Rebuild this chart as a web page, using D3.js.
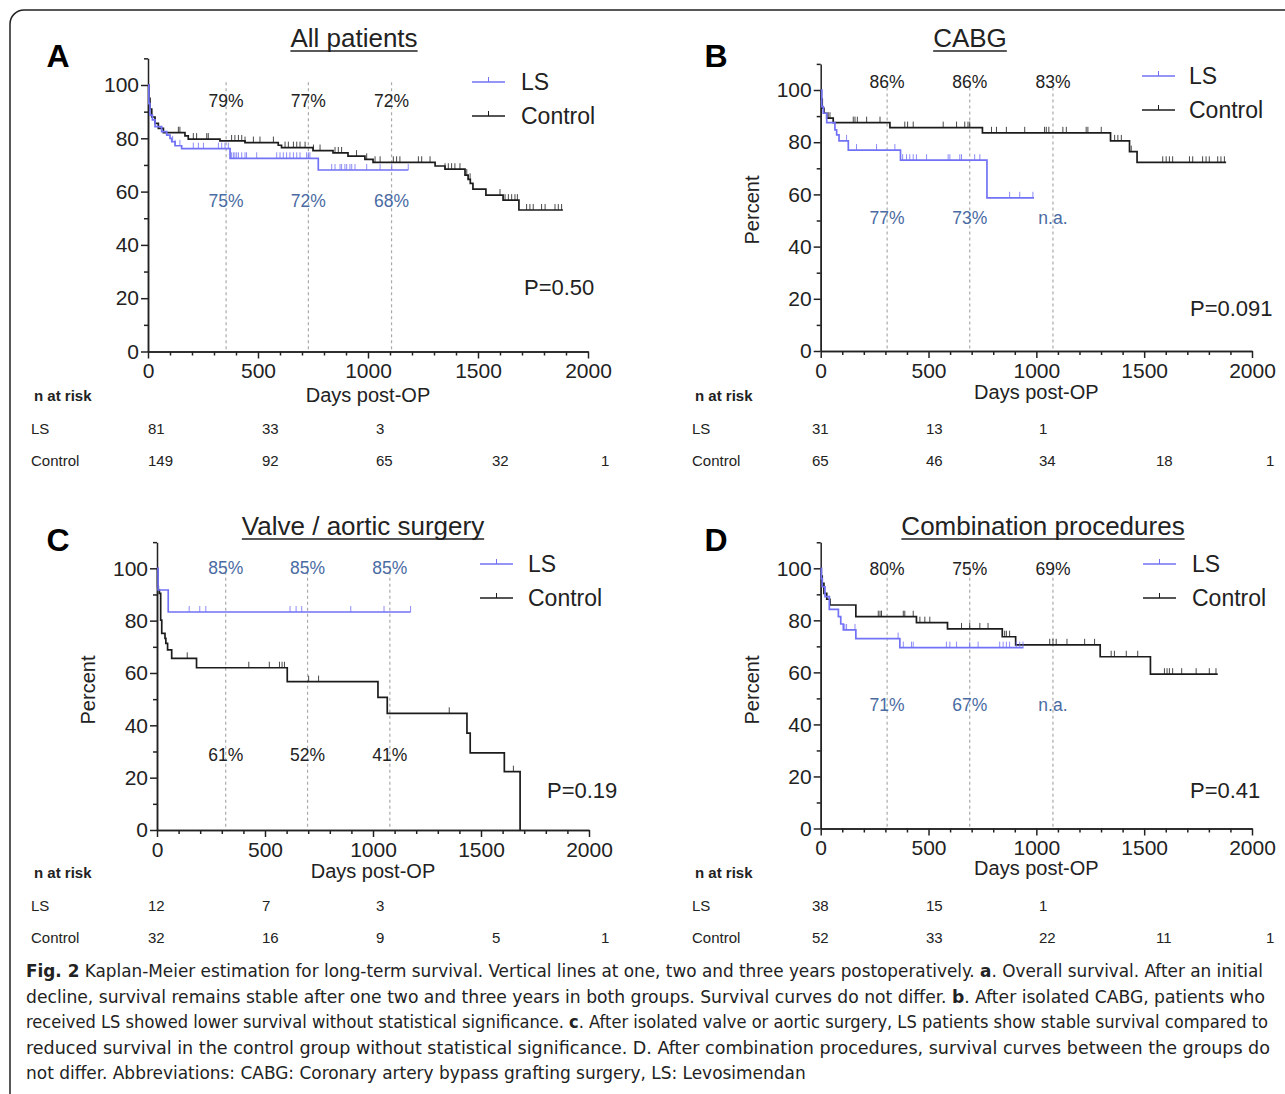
<!DOCTYPE html>
<html>
<head>
<meta charset="utf-8">
<script src="https://cdn.jsdelivr.net/npm/d3@7"></script>
<style>
body{margin:0;background:#fff}
svg{display:block;font-family:"Liberation Sans",Arial,Helvetica,sans-serif}
</style>
</head>
<body>
<script>
// ---- data ----
var titles = ["All patients", "CABG", "Valve / aortic surgery", "Combination procedures"];
var letters = ["A", "B", "C", "D"];
var pValues = ["P=0.50", "P=0.091", "P=0.19", "P=0.41"];
var xTicks = [0, 500, 1000, 1500, 2000];
var yTicks = [0, 20, 40, 60, 80, 100];

// vertical year lines (days, as drawn)
var yearLinesA = [355, 729, 1107];
var yearLinesB = [308, 691, 1077];
var yearLinesC = [318, 697, 1078];
var yearLinesD = [308, 691, 1077];

// percent labels at the year lines
var ctrlPctA = ["79%", "77%", "72%"], lsPctA = ["75%", "72%", "68%"];
var ctrlPctB = ["86%", "86%", "83%"], lsPctB = ["77%", "73%", "n.a."];
var ctrlPctC = ["61%", "52%", "41%"], lsPctC = ["85%", "85%", "85%"];
var ctrlPctD = ["80%", "75%", "69%"], lsPctD = ["71%", "67%", "n.a."];

// Kaplan-Meier steps [day, percent], last day, censored days
var aLsSteps = [[0,100],[4,93],[9,88.7],[20,86.9],[32,84.4],[62,82.5],[85,81.2],[100,80],[108,78.7],[123,77.2],[153,76.1],[373,72.5],[774,68.1]];
var aLsEnd = 1183;
var aLsCens = [112,123,145,206,229,252,320,335,350,365,380,388,395,403,411,426,441,448,494,585,600,615,630,645,661,676,691,721,729,736,835,850,873,880,895,903,918,926,941,994,1055,1108,1183];
var aCtrlSteps = [[0,100],[4,95],[9,91],[17,88],[32,85.6],[47,83.7],[70,82.1],[168,80.9],[183,79.7],[327,79.0],[441,78.4],[592,77.4],[607,76.5],[750,75.4],[841,74.5],[909,73.3],[986,72.1],[1023,71.0],[1305,69.6],[1350,68.4],[1441,66.2],[1455,64.6],[1465,63.1],[1477,60.9],[1536,58.7],[1614,56.8],[1686,53.1]];
var aCtrlEnd = 1886;
var aCtrlCens = [138,145,206,221,267,274,380,395,411,426,441,479,509,570,623,638,661,676,691,714,752,782,850,865,880,948,994,1032,1055,1115,1130,1145,1229,1244,1282,1350,1365,1380,1395,1418,1449,1464,1600,1623,1638,1653,1668,1679,1721,1736,1751,1789,1805,1850,1865,1880];

var bLsSteps = [[0,100],[5,93.6],[12,91.1],[28,87.5],[66,84.7],[74,82.8],[85,80.5],[128,77.0],[370,73.1],[771,58.7]];
var bLsEnd = 989;
var bLsCens = [120,166,259,344,380,398,413,429,444,491,591,599,645,653,714,738,876,923,984];
var bCtrlSteps = [[0,100],[3,96.5],[7,93],[15,91.1],[28,89.2],[58,87.5],[321,85.6],[750,83.6],[1344,80.5],[1432,76.4],[1467,72.3]];
var bCtrlEnd = 1880;
var bCtrlCens = [35,43,151,159,170,213,275,390,403,429,568,630,668,683,691,792,815,861,946,1038,1046,1058,1123,1139,1231,1239,1301,1363,1378,1394,1440,1586,1602,1617,1632,1710,1725,1771,1787,1802,1841,1856,1872];

var cLsSteps = [[0,100],[5,91.7],[52,83.3]];
var cLsEnd = 1174;
var cLsCens = [149,198,226,616,644,670,897,1051,1174];
var cCtrlSteps = [[0,100],[3,93],[6,91.7],[11,90.4],[17,80.2],[22,75.1],[37,73.2],[41,71.3],[49,68.8],[68,65.6],[183,62.0],[603,56.7],[1023,50.7],[1066,44.6],[1435,37.0],[1450,29.5],[1608,22.3],[1681,0]];
var cCtrlEnd = 1681;
var cCtrlCens = [140,425,520,567,579,590,702,748,1353,1650];

var dLsSteps = [[0,100],[3,96],[7,92.9],[20,89.1],[40,84.2],[82,81.4],[93,78.6],[105,76.3],[163,73.0],[367,69.5]];
var dLsEnd = 940;
var dLsCens = [112,120,159,359,383,421,429,583,599,630,691,730,830,846,861,876,907,923,938];
var dCtrlSteps = [[0,100],[3,97],[7,94.2],[15,90.4],[28,88.1],[43,85.9],[163,81.4],[444,79.1],[588,76.7],[842,73.7],[904,70.6],[1296,66.0],[1529,59.3]];
var dCtrlEnd = 1841;
var dCtrlCens = [267,275,282,383,390,429,460,483,506,653,691,738,776,853,861,876,1062,1077,1092,1142,1224,1270,1347,1362,1417,1470,1594,1606,1617,1632,1674,1741,1802,1833];

// numbers at risk
var riskA_LS = [81, 33, 3], riskA_Ctrl = [149, 92, 65, 32, 1];
var riskB_LS = [31, 13, 1], riskB_Ctrl = [65, 46, 34, 18, 1];
var riskC_LS = [12, 7, 3], riskC_Ctrl = [32, 16, 9, 5, 1];
var riskD_LS = [38, 15, 1], riskD_Ctrl = [52, 33, 22, 11, 1];

var captionLines = [
  [["Fig. 2", true], [" Kaplan-Meier estimation for long-term survival. Vertical lines at one, two and three years postoperatively. ", false], ["a", true], [". Overall survival. After an initial", false]],
  [["decline, survival remains stable after one two and three years in both groups. Survival curves do not differ. ", false], ["b", true], [". After isolated CABG, patients who", false]],
  [["received LS showed lower survival without statistical significance. ", false], ["c", true], [". After isolated valve or aortic surgery, LS patients show stable survival compared to", false]],
  [["reduced survival in the control group without statistical significance. D. After combination procedures, survival curves between the groups do", false]],
  [["not differ. Abbreviations: CABG: Coronary artery bypass grafting surgery, LS: Levosimendan", false]]
];

// ---- drawing ----
var lsColor = "#7272f6", ctrlColor = "#1c1c1c", lsText = "#4a6ba3", ink = "#222";

var svg = d3.select("body").append("svg").attr("width", 1285).attr("height", 1094);

svg.append("rect").attr("x", 10).attr("y", 10).attr("width", 1310).attr("height", 1110)
  .attr("rx", 14).attr("fill", "#fff").attr("stroke", "#222").attr("stroke-width", 1.5);

var panels = [
  {x0:148, x1:588, y0:351.5, y100:85, yearLines:yearLinesA, ctrlPct:ctrlPctA, lsPct:lsPctA, ctrlPctY:107, lsPctY:207,
   ls:aLsSteps, lsEnd:aLsEnd, lsCens:aLsCens, ctrl:aCtrlSteps, ctrlEnd:aCtrlEnd, ctrlCens:aCtrlCens,
   riskLS:riskA_LS, riskCtrl:riskA_Ctrl, riskX:[148,262,376,492,601], riskLabelX:31, riskTop:401,
   titleX:354, titleY:47, letterX:58, letterY:67, percent:null, xLabelY:402,
   legX:472, legY:82, legTextX:521, pX:524, pY:295},
  {x0:820.7, x1:1252, y0:351, y100:90, yearLines:yearLinesB, ctrlPct:ctrlPctB, lsPct:lsPctB, ctrlPctY:88, lsPctY:224,
   ls:bLsSteps, lsEnd:bLsEnd, lsCens:bLsCens, ctrl:bCtrlSteps, ctrlEnd:bCtrlEnd, ctrlCens:bCtrlCens,
   riskLS:riskB_LS, riskCtrl:riskB_Ctrl, riskX:[812,926,1039,1156,1266], riskLabelX:692, riskTop:401,
   titleX:970, titleY:47, letterX:716, letterY:67, percent:[752,210], xLabelY:399,
   legX:1142, legY:76, legTextX:1189, pX:1190, pY:316},
  {x0:157, x1:589, y0:830, y100:568.3, yearLines:yearLinesC, ctrlPct:ctrlPctC, lsPct:lsPctC, ctrlPctY:761, lsPctY:574,
   ls:cLsSteps, lsEnd:cLsEnd, lsCens:cLsCens, ctrl:cCtrlSteps, ctrlEnd:cCtrlEnd, ctrlCens:cCtrlCens,
   riskLS:riskC_LS, riskCtrl:riskC_Ctrl, riskX:[148,262,376,492,601], riskLabelX:31, riskTop:878,
   titleX:363, titleY:535, letterX:58, letterY:551, percent:[88,690], xLabelY:878,
   legX:480, legY:564, legTextX:528, pX:547, pY:798},
  {x0:820.7, x1:1252, y0:828.5, y100:568.3, yearLines:yearLinesD, ctrlPct:ctrlPctD, lsPct:lsPctD, ctrlPctY:575, lsPctY:711,
   ls:dLsSteps, lsEnd:dLsEnd, lsCens:dLsCens, ctrl:dCtrlSteps, ctrlEnd:dCtrlEnd, ctrlCens:dCtrlCens,
   riskLS:riskD_LS, riskCtrl:riskD_Ctrl, riskX:[812,926,1039,1156,1266], riskLabelX:692, riskTop:878,
   titleX:1043, titleY:535, letterX:716, letterY:551, percent:[752,690], xLabelY:875,
   legX:1143, legY:564, legTextX:1192, pX:1190, pY:798}
];

function survAt(steps, t) {
  var s = steps[0][1];
  steps.forEach(function(p){ if (p[0] <= t) s = p[1]; });
  return s;
}

panels.forEach(function(p, i) {
  var x = d3.scaleLinear().domain([0, 2000]).range([p.x0, p.x1]);
  var y = d3.scaleLinear().domain([0, 100]).range([p.y0, p.y100]);
  var g = svg.append("g");

  // axes
  var yMajor = d3.axisLeft(y).tickValues(yTicks).tickSize(7).tickSizeOuter(0).tickPadding(2).tickFormat(d3.format("d"));
  var yMinor = d3.axisLeft(y.copy().domain([0, 110]).range([p.y0, y(110)])).tickValues([10,30,50,70,90,110]).tickSize(4).tickSizeOuter(0).tickFormat("");
  var xMajor = d3.axisBottom(x).tickValues(xTicks).tickSize(7).tickSizeOuter(0).tickPadding(5).tickFormat(d3.format("d"));
  var xMinor = d3.axisBottom(x).tickValues(d3.range(100, 2000, 100).filter(function(d){ return d % 500; })).tickSize(4).tickSizeOuter(0).tickFormat("");

  var ya = g.append("g").attr("transform", "translate(" + p.x0 + ",0)");
  ya.append("g").call(yMinor);
  ya.append("g").call(yMajor);
  var xa = g.append("g").attr("transform", "translate(0," + p.y0 + ")");
  xa.append("g").call(xMinor);
  xa.append("g").call(xMajor);
  g.selectAll(".domain, .tick line").attr("stroke", ink).attr("stroke-width", 1.5);
  g.selectAll(".tick text").attr("font-size", 21).attr("fill", ink).attr("font-family", "Liberation Sans, Arial, sans-serif");

  // year lines
  g.selectAll(".yl").data(p.yearLines).enter().append("line")
    .attr("x1", function(d){ return x(d); }).attr("x2", function(d){ return x(d); })
    .attr("y1", y(101)).attr("y2", p.y0)
    .attr("stroke", "#aaa").attr("stroke-width", 1.2).attr("stroke-dasharray", "3,3");

  g.selectAll(".pc").data(p.ctrlPct).enter().append("text")
    .attr("x", function(d, j){ return x(p.yearLines[j]); }).attr("y", p.ctrlPctY)
    .attr("text-anchor", "middle").attr("font-size", 17.5).attr("fill", ink).text(function(d){ return d; });
  g.selectAll(".pl").data(p.lsPct).enter().append("text")
    .attr("x", function(d, j){ return x(p.yearLines[j]); }).attr("y", p.lsPctY)
    .attr("text-anchor", "middle").attr("font-size", 17.5).attr("fill", lsText).text(function(d){ return d; });

  // curves
  var line = d3.line().x(function(d){ return x(d[0]); }).y(function(d){ return y(d[1]); }).curve(d3.curveStepAfter);
  [[p.ctrl, p.ctrlEnd, p.ctrlCens, ctrlColor], [p.ls, p.lsEnd, p.lsCens, lsColor]].forEach(function(c) {
    var pts = c[0].concat([[c[1], c[0][c[0].length - 1][1]]]);
    g.append("path").datum(pts).attr("d", line).attr("fill", "none")
      .attr("stroke", c[3]).attr("stroke-width", 1.7);
    g.selectAll(null).data(c[2]).enter().append("line")
      .attr("x1", function(d){ return x(d); }).attr("x2", function(d){ return x(d); })
      .attr("y1", function(d){ return y(survAt(c[0], d)) - 6; })
      .attr("y2", function(d){ return y(survAt(c[0], d)); })
      .attr("stroke", c[3]).attr("stroke-width", 1).attr("opacity", 0.8);
  });

  // title + underline
  var t = g.append("text").attr("x", p.titleX).attr("y", p.titleY).attr("text-anchor", "middle")
    .attr("font-size", 26).attr("fill", ink).text(titles[i]);
  var tw = t.node().getComputedTextLength();
  g.append("line").attr("x1", p.titleX - tw / 2).attr("x2", p.titleX + tw / 2)
    .attr("y1", p.titleY + 4).attr("y2", p.titleY + 4).attr("stroke", ink).attr("stroke-width", 1.5);

  g.append("text").attr("x", p.letterX).attr("y", p.letterY).attr("text-anchor", "middle")
    .attr("font-size", 32).attr("font-weight", "bold").attr("fill", "#000").text(letters[i]);

  if (p.percent) {
    g.append("text").attr("transform", "translate(" + p.percent[0] + "," + p.percent[1] + ") rotate(-90)")
      .attr("text-anchor", "middle").attr("dy", "0.35em").attr("font-size", 20).attr("fill", ink).text("Percent");
  }
  g.append("text").attr("x", x(1000)).attr("y", p.xLabelY).attr("text-anchor", "middle")
    .attr("font-size", 20).attr("fill", ink).text("Days post-OP");

  // legend
  [["LS", lsColor, 0], ["Control", ctrlColor, 1]].forEach(function(l) {
    var ly = p.legY + l[2] * 34;
    g.append("line").attr("x1", p.legX).attr("x2", p.legX + 33).attr("y1", ly).attr("y2", ly)
      .attr("stroke", l[1]).attr("stroke-width", 1.7);
    g.append("line").attr("x1", p.legX + 16.5).attr("x2", p.legX + 16.5).attr("y1", ly - 5).attr("y2", ly)
      .attr("stroke", l[1]).attr("stroke-width", 1);
    g.append("text").attr("x", p.legTextX).attr("y", ly + 8).attr("font-size", 23).attr("fill", ink).text(l[0]);
  });

  g.append("text").attr("x", p.pX).attr("y", p.pY).attr("font-size", 22).attr("fill", ink).text(pValues[i]);

  // numbers at risk
  g.append("text").attr("x", p.riskLabelX + 3).attr("y", p.riskTop).attr("font-size", 15)
    .attr("font-weight", "bold").attr("fill", ink).text("n at risk");
  [["LS", p.riskLS, 33], ["Control", p.riskCtrl, 65]].forEach(function(r) {
    g.append("text").attr("x", p.riskLabelX).attr("y", p.riskTop + r[2]).attr("font-size", 15).attr("fill", ink).text(r[0]);
    g.selectAll(null).data(r[1]).enter().append("text")
      .attr("x", function(d, j){ return p.riskX[j]; }).attr("y", p.riskTop + r[2])
      .attr("font-size", 15).attr("fill", ink).text(function(d){ return d; });
  });
});

// caption (condensed face, fitted to the line widths of the original)
var capFont = "'DejaVu Sans Condensed', 'Liberation Sans Narrow', sans-serif";
var capRight = [1263, 1265, 1268, 1270];
var ratios = [];
var capNodes = captionLines.map(function(parts, k) {
  var tx = svg.append("text").attr("x", 26).attr("y", 977 + k * 25.6)
    .attr("font-size", 18).attr("fill", "#222").attr("font-family", capFont);
  parts.forEach(function(pt) {
    tx.append("tspan").attr("font-weight", pt[1] ? "bold" : "normal").text(pt[0]);
  });
  var w = tx.node().getComputedTextLength();
  if (k < 4) ratios.push((capRight[k] - 26) / w);
  return [tx, w];
});
var meanRatio = d3.mean(ratios);
capNodes.forEach(function(n, k) {
  var target = k < 4 ? capRight[k] - 26 : n[1] * meanRatio;
  n[0].attr("textLength", target).attr("lengthAdjust", "spacingAndGlyphs");
});
</script>
</body>
</html>
